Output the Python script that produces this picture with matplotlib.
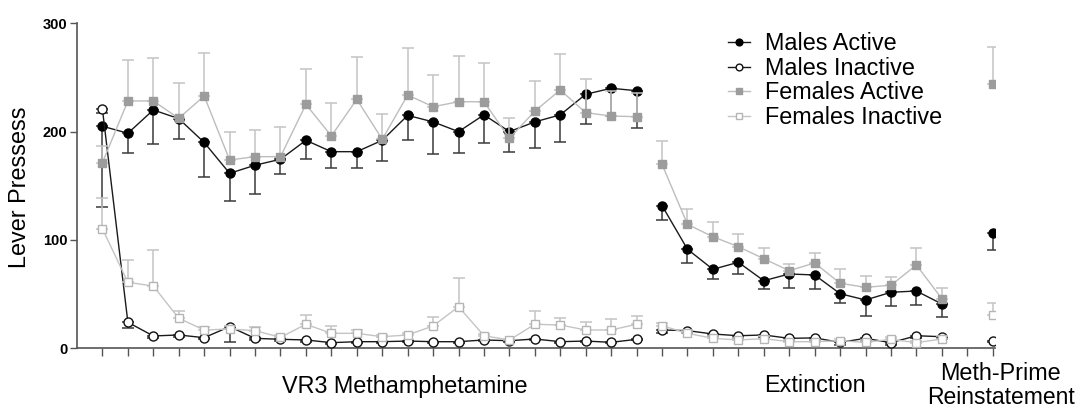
import numpy as np
import matplotlib
matplotlib.use("Agg")
import matplotlib.pyplot as plt
from matplotlib.lines import Line2D

plt.rcParams['font.family'] = ['Liberation Sans', 'DejaVu Sans']

# ---- data ----
vr3_sessions = list(range(0, 22))
ext_sessions = list(range(22, 34))
rein_sessions = [35]
all_ticks = list(range(0, 36))

males_active_vr3 = [205, 198.5, 220, 212, 190, 161.5, 169, 174.5, 192, 181.5, 181.5,
                    192, 215, 209, 200, 215.5, 200, 209, 215.5, 234.5, 240, 237.8]
males_active_vr3_sem = [74.5, 18.5, 31.7, 18.5, 32, 25.5, 26.7, 13.6, 17, 15.5, 15.5,
                        19, 23, 30, 20, 26, 18.5, 24, 25, 27, 26, 34]
males_active_ext = [131.7, 91.4, 72.9, 79.4, 62.4, 68.6, 67.7, 50.4, 44.6, 51.7, 52.9, 40.9]
males_active_ext_sem = [13.3, 12.4, 8.6, 10.8, 7.9, 13.2, 13.2, 8.3, 14.8, 12.7, 12.9, 11.7]
males_active_rein = [106.2]
males_active_rein_sem = [15.5]

males_inactive_vr3 = [220.6, 24, 11.4, 12.3, 9.8, 20, 9.2, 8.3, 7.7, 5.2, 6.1,
                      6.1, 6.7, 6.1, 6.1, 7.7, 7, 8.6, 6.1, 6.7, 5.5, 8.3]
males_inactive_vr3_sem = [3, 5, 1.5, 1.5, 1.5, 14, 1.5, 1.5, 1.5, 1, 1,
                          1, 1, 1, 1, 1, 1, 1, 1, 1, 1, 1]
males_inactive_ext = [16.9, 16.3, 13.2, 11.6, 12.3, 9.2, 9.6, 5.5, 9.2, 5.2, 11.6, 10.7]
males_inactive_ext_sem = [3, 2, 2, 2, 2, 2, 2, 2, 2, 2, 2, 2]
males_inactive_rein = [7]
males_inactive_rein_sem = [1]

females_active_vr3 = [171.3, 228.3, 228.3, 212.3, 232.9, 173.8, 176.9, 176.9, 225.2, 196, 229.8,
                      192.9, 233.8, 223, 227.6, 227.6, 193.8, 219, 238.4, 217.5, 214.4, 213.8]
females_active_vr3_sem = [15, 38, 40, 33, 40, 26, 25, 27, 33, 30, 39,
                          23, 43, 29, 42, 35.5, 19, 27.7, 33, 31, 23, 22]
females_active_ext = [169.8, 114.4, 103, 93.8, 82.7, 71.6, 78.8, 60, 56.3, 58.2, 76.9, 45.8]
females_active_ext_sem = [21.8, 14.5, 13.3, 11.7, 10.2, 6.2, 8.9, 12.9, 10.7, 7.3, 16, 10.1]
females_active_rein = [243.7]
females_active_rein_sem = [34.7]

females_inactive_vr3 = [110.4, 60.9, 57.5, 27.7, 16.9, 17.8, 16.3, 10.1, 22.2, 13.8, 13.8,
                        10.7, 12.3, 20.6, 38.4, 11.6, 7.7, 22.2, 21.5, 16.9, 16.9, 22.2]
females_inactive_vr3_sem = [28, 21, 33, 7, 3, 3, 3, 2, 8.5, 7, 3,
                            2, 2, 8.6, 26.8, 2, 1, 12.5, 6.7, 7, 9.9, 7.6]
females_inactive_ext = [20.9, 13.8, 9.2, 7.7, 8.9, 6.1, 6.1, 7, 5.5, 8.3, 5.2, 8.6]
females_inactive_ext_sem = [2, 2, 2, 2, 2, 2, 2, 2, 2, 2, 2, 3]
females_inactive_rein = [30.7]
females_inactive_rein_sem = [11.4]

series_labels = ["Males Active", "Males Inactive", "Females Active", "Females Inactive"]
phase_labels = ["VR3 Methamphetamine", "Extinction", "Meth-Prime", "Reinstatement"]
y_ticks = [0, 100, 200, 300]
y_label = "Lever Pressess"

# ---- figure ----
W, H = 1078, 409
fig = plt.figure(figsize=(W / 100, H / 100), dpi=100)
ax = fig.add_axes([77 / W, 1 - 348.3 / H, (995 - 77) / W, (348.3 - 23.3) / H])

styles = {
    "Males Active": dict(marker='o', mfc='black', mec='black', color='#1a1a1a',
                         ecolor='#3a3a3a', ms=6.5, direction='down', z=3),
    "Males Inactive": dict(marker='o', mfc='white', mec='#111111', color='#1a1a1a',
                           ecolor='#3a3a3a', ms=6.5, direction='down', z=3),
    "Females Active": dict(marker='s', mfc='#9c9c9c', mec='#9c9c9c', color='#bdbdbd',
                           ecolor='#c4c4c4', ms=6.0, direction='up', z=4),
    "Females Inactive": dict(marker='s', mfc='white', mec='#b5b5b5', color='#c4c4c4',
                             ecolor='#c4c4c4', ms=6.0, direction='up', z=4),
}

data = {
    "Males Active": [(vr3_sessions, males_active_vr3, males_active_vr3_sem),
                     (ext_sessions, males_active_ext, males_active_ext_sem),
                     (rein_sessions, males_active_rein, males_active_rein_sem)],
    "Males Inactive": [(vr3_sessions, males_inactive_vr3, males_inactive_vr3_sem),
                       (ext_sessions, males_inactive_ext, males_inactive_ext_sem),
                       (rein_sessions, males_inactive_rein, males_inactive_rein_sem)],
    "Females Active": [(vr3_sessions, females_active_vr3, females_active_vr3_sem),
                       (ext_sessions, females_active_ext, females_active_ext_sem),
                       (rein_sessions, females_active_rein, females_active_rein_sem)],
    "Females Inactive": [(vr3_sessions, females_inactive_vr3, females_inactive_vr3_sem),
                         (ext_sessions, females_inactive_ext, females_inactive_ext_sem),
                         (rein_sessions, females_inactive_rein, females_inactive_rein_sem)],
}

order = ["Males Active", "Males Inactive", "Females Active", "Females Inactive"]
for name in order:
    st = styles[name]
    for xs, ys, es in data[name]:
        es = np.asarray(es, dtype=float)
        zeros = np.zeros_like(es)
        yerr = [es, zeros] if st['direction'] == 'down' else [zeros, es]
        ax.errorbar(xs, ys, yerr=yerr, fmt='none', ecolor=st['ecolor'],
                    elinewidth=1.1, capsize=4.5, capthick=1.1, zorder=st['z'] - 1)
        ax.plot(xs, ys, color=st['color'], lw=1.0, marker=st['marker'],
                mfc=st['mfc'], mec=st['mec'], mew=1.0, ms=st['ms'], zorder=st['z'])

ax.set_xlim(-1, 35.09)
ax.set_ylim(0, 300)
ax.set_xticks(all_ticks)
ax.set_xticklabels([])
ax.set_yticks(y_ticks)
ax.set_yticklabels([str(v) for v in y_ticks], fontweight='bold', fontsize=10.5)
for s in ['top', 'right']:
    ax.spines[s].set_visible(False)
for s in ['left', 'bottom']:
    ax.spines[s].set_color('#555555')
    ax.spines[s].set_linewidth(1.2)
ax.tick_params(axis='both', direction='out', color='#555555', width=1.0)
ax.tick_params(axis='x', length=5.5)
ax.tick_params(axis='y', length=5, pad=2)

fig.text(20 / W, 1 - 187 / H, y_label, rotation=90, ha='center', va='center', fontsize=16.8)

def px(xd):
    return (77 + (xd + 1) * 25.43) / W

fig.text(px(11.9), 1 - 386.5 / H, phase_labels[0], ha='center', va='center', fontsize=16.8)
fig.text(px(28.0), 1 - 385 / H, phase_labels[1], ha='center', va='center', fontsize=16.8)
fig.text(1000 / W, 1 - 373 / H, phase_labels[2], ha='center', va='center', fontsize=16.8)
fig.text(1001 / W, 1 - 398 / H, phase_labels[3], ha='center', va='center', fontsize=16.5)

handles = []
for name in order:
    st = styles[name]
    handles.append(Line2D([], [], color=st['color'], lw=1.0, marker=st['marker'],
                          mfc=st['mfc'], mec=st['mec'], mew=1.0, ms=st['ms'] * 0.75))
leg = fig.legend(handles, series_labels, loc='upper left',
                 bbox_to_anchor=(728 / W, 1 - 32.5 / H), frameon=False, fontsize=16.8,
                 handlelength=0.94, handletextpad=0.64, labelspacing=0.06,
                 borderpad=0.0, borderaxespad=0.0)

fig.savefig("out.png", dpi=100)
